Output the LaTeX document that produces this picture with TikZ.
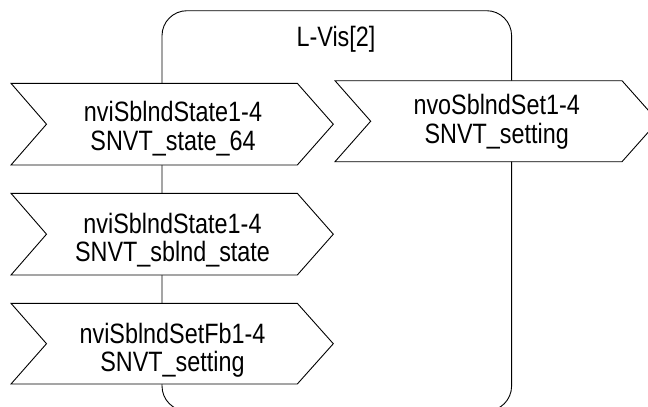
\documentclass[tikz,border=0pt]{standalone}
\usepackage{fontspec}
\newfontfamily\labfont[FakeStretch=0.835]{Liberation Sans}
\tikzset{
  outline/.style={draw=black, line width=0.9pt, line join=miter},
  chev/.style={outline, fill=white},
  lab/.style={anchor=base, inner sep=0pt, font=\labfont\fontsize{28}{29}\selectfont}
}
\begin{document}
\begin{tikzpicture}[x=1pt,y=-1pt]
\useasboundingbox (0,0) rectangle (648,407);
\clip (0,0) rectangle (648,407);
% device frame
\draw[outline, rounded corners=25pt] (162,10.7) rectangle (511.6,411);
\node[lab] (title) at (336,46.7) {L-Vis[2]};
% input 1
\draw[chev] (11,83.3) -- (297.3,83.3) -- (333.3,124.2) -- (297.3,165) -- (11,165) -- (46.5,124.2) -- cycle;
\node[lab] (i1a) at (173,121.9) {nviSblndState1-4};
\node[lab] (i1b) at (173,150.2) {SNVT\_state\_64};
% input 2
\draw[chev] (11,193.3) -- (297.3,193.3) -- (333.3,234.2) -- (297.3,275) -- (11,275) -- (46.5,234.2) -- cycle;
\node[lab] (i2a) at (172.5,233.1) {nviSblndState1-4};
\node[lab] (i2b) at (172.5,261.5) {SNVT\_sblnd\_state};
% input 3
\draw[chev] (11,303.3) -- (297.3,303.3) -- (333.3,343.7) -- (297.3,384) -- (11,384) -- (46.5,343.7) -- cycle;
\node[lab] (i3a) at (172.5,343.1) {nviSblndSetFb1-4};
\node[lab] (i3b) at (172.5,371.5) {SNVT\_setting};
% output
\draw[chev] (335,80.7) -- (622,80.7) -- (658,121.2) -- (622,161.7) -- (335,161.7) -- (370.7,121.2) -- cycle;
\node[lab] (o1a) at (496.7,114.3) {nvoSblndSet1-4};
\node[lab] (o1b) at (496.7,143.3) {SNVT\_setting};
\end{tikzpicture}
\end{document}
